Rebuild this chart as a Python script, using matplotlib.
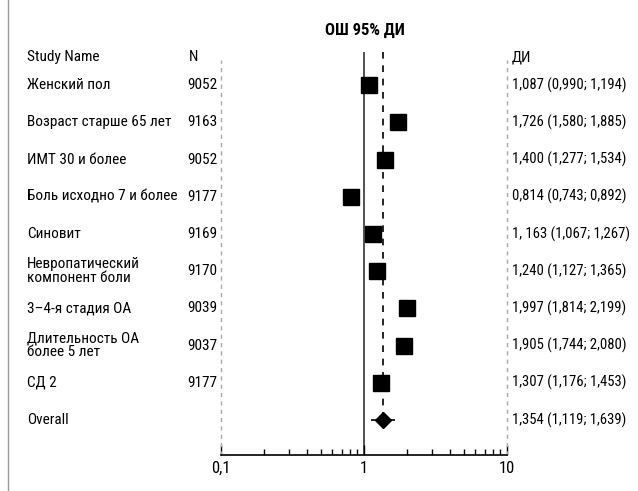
import numpy as np
import matplotlib.pyplot as plt
from matplotlib.lines import Line2D
from matplotlib.transforms import blended_transform_factory

plt.rcParams['font.family'] = ['Roboto Condensed', 'DejaVu Sans']

studies = ['Женский пол', 'Возраст старше 65 лет', 'ИМТ 30 и более',
           'Боль исходно 7 и более', 'Синовит', 'Невропатический\nкомпонент боли',
           '3–4-я стадия ОА', 'Длительность ОА\nболее 5 лет', 'СД 2']
n_vals = ['9052', '9163', '9052', '9177', '9169', '9170', '9039', '9037', '9177']
odds = [1.087, 1.726, 1.400, 0.814, 1.163, 1.240, 1.997, 1.905, 1.307]
lower = [0.990, 1.580, 1.277, 0.743, 1.067, 1.127, 1.814, 1.744, 1.176]
upper = [1.194, 1.885, 1.534, 0.892, 1.267, 1.365, 2.199, 2.080, 1.453]
ci_text = ['1,087 (0,990; 1,194)', '1,726 (1,580; 1,885)', '1,400 (1,277; 1,534)',
           '0,814 (0,743; 0,892)', '1, 163 (1,067; 1,267)', '1,240 (1,127; 1,365)',
           '1,997 (1,814; 2,199)', '1,905 (1,744; 2,080)', '1,307 (1,176; 1,453)']
overall = 1.354
overall_lo, overall_hi = 1.119, 1.639
overall_text = '1,354 (1,119; 1,639)'

W, H = 638, 491
fig = plt.figure(figsize=(W / 100, H / 100), dpi=100)

# axes in pixel terms: x 221..507, y 52..455
ax = fig.add_axes([221 / W, (H - 455) / H, 286 / W, 403 / H])
ax.set_xscale('log')
ax.set_xlim(0.1, 10)
ax.set_ylim(9.94, -0.89)
for s in ['top', 'left', 'right']:
    ax.spines[s].set_visible(False)
ax.spines['bottom'].set_linewidth(1.2)
ax.set_yticks([])
ax.set_xticks([0.1, 1, 10])
ax.set_xticklabels(['0,1', '1', '10'])
ax.tick_params(axis='x', which='major', direction='in', length=7, width=1, labelsize=12, pad=4)
ax.tick_params(axis='x', which='minor', direction='in', length=4, width=1, labelbottom=False)
ax.xaxis.set_minor_locator(plt.LogLocator(base=10, subs=np.arange(2, 10)))

rows = np.arange(len(studies))

# reference lines
ax.axvline(1, color='#333333', lw=1.2, zorder=1)
ax.plot([overall, overall], [-0.89, 9], color='black', ls=(0, (4, 4)), lw=1.2, zorder=1)
ax.axvline(0.1, ymin=0, ymax=0.98, color='#aaaaaa', ls=(0, (3, 3)), lw=1, clip_on=False)
ax.axvline(10, ymin=0, ymax=0.98, color='#aaaaaa', ls=(0, (3, 3)), lw=1, clip_on=False)

# studies
ax.hlines(rows, lower, upper, color='black', lw=1.2, zorder=2)
ax.plot(odds, rows, ls='none', marker='s', ms=11.5, color='black', zorder=3)

# overall
ax.hlines(9, overall_lo, overall_hi, color='black', lw=1.2, zorder=2)
ax.plot([overall], [9], ls='none', marker='D', ms=8, color='black', zorder=3)

# text columns
fs = 11
fs_ci = 10.5


def fx(px):
    return px / W


btr = blended_transform_factory(fig.transFigure, ax.transData)

ax.text(fx(27), -0.75, 'Study Name', transform=btr, fontsize=fs, va='center', ha='left')
ax.text(fx(189), -0.75, 'N', transform=btr, fontsize=fs, va='center', ha='left')
ax.text(fx(512), -0.75, 'ДИ', transform=btr, fontsize=fs, va='center', ha='left')
for i in rows:
    ax.text(fx(27), i, studies[i], transform=btr, fontsize=fs, va='center', ha='left',
            linespacing=0.95)
    ax.text(fx(217), i, n_vals[i], transform=btr, fontsize=fs, va='center', ha='right')
    ax.text(fx(512), i, ci_text[i], transform=btr, fontsize=fs_ci, va='center', ha='left')
ax.text(fx(27), 9, 'Overall', transform=btr, fontsize=fs, va='center', ha='left')
ax.text(fx(512), 9, overall_text, transform=btr, fontsize=fs_ci, va='center', ha='left')

fig.text(365 / W, 1 - 30 / H, 'ОШ 95% ДИ', fontsize=12, fontweight='bold',
         ha='center', va='center')

# page border on the left
fig.add_artist(Line2D([7.5 / W, 7.5 / W], [0, 1], color='#999999', lw=1))

fig.savefig('out.png', dpi=100)
